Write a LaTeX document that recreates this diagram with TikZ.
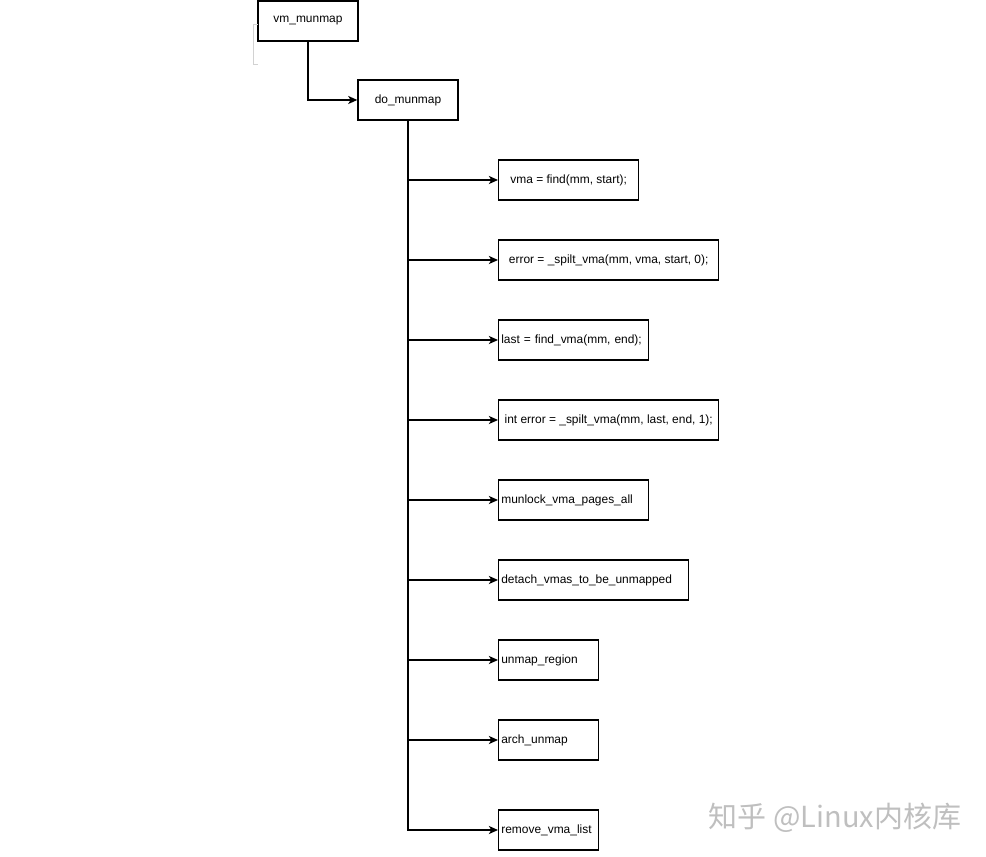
\documentclass[tikz,border=0pt]{standalone}
\usepackage{fontspec}
\setmainfont{Liberation Sans}
\newfontfamily\cjkfont{Noto Sans CJK SC}
\usetikzlibrary{arrows.meta}

\tikzset{
  fn/.style={shape=rectangle, draw=black, line width=0.8pt, minimum height=0.8cm,
    inner xsep=1.5pt, inner ysep=0pt, font=\fontsize{6.8}{8}\selectfont},
  call/.style={->, line width=0.8pt, >={Stealth[length=5.2pt,width=4.6pt,inset=1.4pt]}}
}

\begin{document}
\begin{tikzpicture}[x=0.02cm, y=-0.02cm]
      \useasboundingbox (0,0) rectangle (986,857);
      % top of the call chain
      \node (vm) [fn, minimum width=2cm] at (308,21) {vm\_munmap};
      \node (do) [fn, minimum width=2cm] at (408,100) {do\_munmap};
      \draw [gray!35, line width=0.5pt] (258,24) -- (253,24) -- (253,64) -- (258,64);
      \draw [call] (vm.south) |- (do.west);
      % what do_munmap calls
      \node (find) [fn, anchor=west, minimum width=2.8cm] at (498,180) {vma = find(mm, start);};
      \node (split1) [fn, anchor=west, minimum width=4.4cm] at (498,260) {error = \_spilt\_vma(mm, vma, start, 0);};
      \node (last) [fn, anchor=west, text width=2.89cm, align=left] at (498,340) {last = find\_vma(mm, end);};
      \node (split2) [fn, anchor=west, minimum width=4.4cm] at (498,420) {int error = \_spilt\_vma(mm, last, end, 1);};
      \node (munlock) [fn, anchor=west, text width=2.89cm, align=left] at (498,500) {munlock\_vma\_pages\_all};
      \node (detach) [fn, anchor=west, text width=3.69cm, align=left] at (498,580) {detach\_vmas\_to\_be\_unmapped};
      \node (unmap) [fn, anchor=west, text width=1.89cm, align=left] at (498,660) {unmap\_region};
      \node (arch) [fn, anchor=west, text width=1.89cm, align=left] at (498,740) {arch\_unmap};
      \node (remove) [fn, anchor=west, text width=1.89cm, align=left] at (498,830) {remove\_vma\_list};
      \draw [call] (do.south) |- (remove.west);
      \draw [call] (do.south |- find.west) -- (find.west);
      \draw [call] (do.south |- split1.west) -- (split1.west);
      \draw [call] (do.south |- last.west) -- (last.west);
      \draw [call] (do.south |- split2.west) -- (split2.west);
      \draw [call] (do.south |- munlock.west) -- (munlock.west);
      \draw [call] (do.south |- detach.west) -- (detach.west);
      \draw [call] (do.south |- unmap.west) -- (unmap.west);
      \draw [call] (do.south |- arch.west) -- (arch.west);
      %% watermark
      \node (mark) at (835,818) [text=gray!50, font=\cjkfont\fontsize{16.5}{18}\selectfont] {知乎 @Linux内核库};
\end{tikzpicture}
\end{document}
